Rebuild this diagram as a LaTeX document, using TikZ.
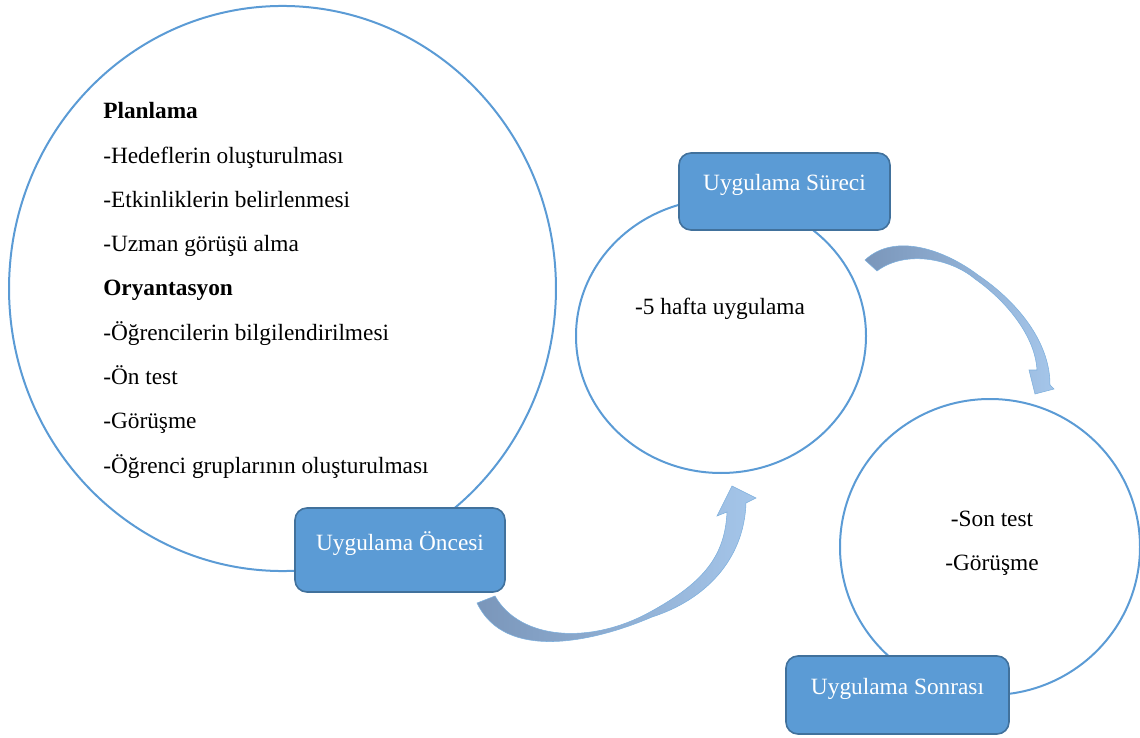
\documentclass[tikz,border=0pt]{standalone}
\usepackage{fontspec}
\setmainfont{Liberation Serif}
\definecolor{ringblue}{RGB}{91,155,213}
\definecolor{boxfill}{RGB}{91,155,213}
\definecolor{boxedge}{RGB}{65,113,156}
\definecolor{tailcol}{RGB}{122,150,186}
\definecolor{headcol}{RGB}{165,198,234}
\tikzset{
  ring/.style={draw=ringblue, line width=1.5pt},
  stagebox/.style={draw=boxedge, fill=boxfill, line width=1.2pt, rounded corners=9pt},
  stagetext/.style={anchor=base, inner sep=0pt, text=white, font=\fontsize{17.5}{21}\selectfont},
  bodytext/.style={anchor=base west, inner sep=0pt, font=\fontsize{17.5}{21}\selectfont},
  ctext/.style={anchor=base, inner sep=0pt, font=\fontsize{17.5}{21}\selectfont},
  bentarrow/.style={left color=tailcol, right color=headcol, draw=ringblue!80, line width=0.4pt}
}
\begin{document}
\begin{tikzpicture}[x=0.75pt,y=-0.75pt]
\useasboundingbox (0,0) rectangle (1140,738);
% circles
\draw[ring] (282.5,288.5) ellipse [x radius=205.1pt, y radius=211.9pt];
\draw[ring] (721,336) ellipse [x radius=108.75pt, y radius=102.75pt];
\draw[ring] (990,547) ellipse [x radius=112.5pt, y radius=111pt];
% text in big circle
\foreach \i/\t in {1/{\textbf{Planlama}},2/{-Hedeflerin oluşturulması},3/{-Etkinliklerin belirlenmesi},4/{-Uzman görüşü alma},5/{\textbf{Oryantasyon}},6/{-Öğrencilerin bilgilendirilmesi},7/{-Ön test},8/{-Görüşme},9/{-Öğrenci gruplarının oluşturulması}}{
  \node[bodytext] (line\i) at (103,{119+44.25*(\i-1)}) {\t};
}
\node[ctext] (mid) at (720,315) {-5 hafta uygulama};
\node[ctext] (son) at (992,526) {-Son test};
\node[ctext] (gor) at (992,570) {-Görüşme};
% boxes
\draw[stagebox] (295,508) rectangle (505,592);
\node[stagetext] (once) at (400,550) {Uygulama Öncesi};
\draw[stagebox] (679,153) rectangle (890,230);
\node[stagetext] (surec) at (784.5,190.5) {Uygulama Süreci};
\draw[stagebox] (786,656) rectangle (1009,734);
\node[stagetext] (sonra) at (897.5,694) {Uygulama Sonrası};
% curved arrow 1
\path[bentarrow] (495,596) .. controls (520,640) and (590,645) .. (650,612)
  .. controls (705,582) and (725,555) .. (727,512)
  -- (717,516) -- (732,486) -- (756,498) -- (746,503)
  .. controls (744,560) and (705,600) .. (652,617)
  .. controls (594,642) and (505,662) .. (477,603) -- cycle;
% curved arrow 2
\path[bentarrow] (877,271) .. controls (905,250) and (950,258) .. (975,279)
  .. controls (1005,300) and (1035,335) .. (1037,370)
  -- (1029,370) -- (1035,394) -- (1054,389) -- (1050,385)
  .. controls (1050,340) and (1015,300) .. (978,275)
  .. controls (945,250) and (895,232) .. (865,260) -- cycle;
\end{tikzpicture}
\end{document}
